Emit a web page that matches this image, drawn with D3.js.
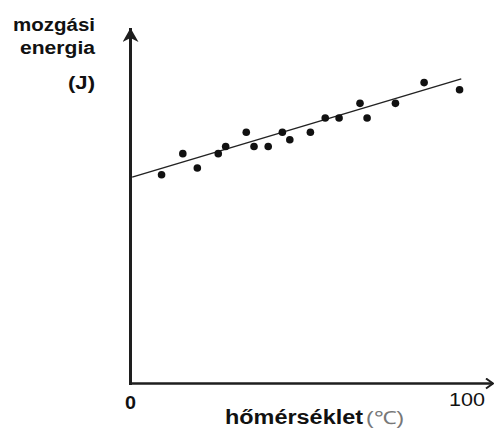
<!DOCTYPE html>
<html>
<head>
<meta charset="utf-8">
<script src="https://cdn.jsdelivr.net/npm/d3@7"></script>
<style>
  body { margin: 0; background: #fff; }
  svg { display: block; font-family: Arial, "Liberation Sans", sans-serif; }
</style>
</head>
<body>
<svg id="chart"></svg>
<script>
// temperature (°C) and kinetic energy (arbitrary units)
const temps = [9.2, 15.5, 19.8, 26.0, 28.2, 34.3, 36.6, 40.8, 45.0, 47.2, 53.3, 57.7, 61.8, 68.0, 70.1, 78.5, 87.0, 97.5];
const energies = [61.4, 67.6, 63.4, 67.6, 69.7, 73.9, 69.7, 69.7, 73.9, 71.7, 73.9, 78.1, 78.1, 82.4, 78.1, 82.4, 88.5, 86.4];
// fitted line end points
const trendX = [0.5, 98];
const trendY = [60.7, 89.6];
const xTicks = [0, 100];

const width = 494, height = 430;
const svg = d3.select('#chart')
    .attr('width', width)
    .attr('height', height);

const x = d3.scaleLinear().domain([0, 100]).range([130.5, 468]);
const y = d3.scaleLinear().domain([0, 100]).range([383.5, 43.5]);

const axisColor = '#1e1e1e';

// axes with arrows
const defs = svg.append('defs');
defs.append('marker')
    .attr('id', 'arrowY')
    .attr('viewBox', '0 0 16 14')
    .attr('refX', 8).attr('refY', 0)
    .attr('markerWidth', 16).attr('markerHeight', 14)
    .attr('markerUnits', 'userSpaceOnUse')
    .attr('orient', 0)
    .append('path')
    .attr('d', 'M8,0 L16,14 L8,10 L0,14 Z')
    .attr('fill', axisColor);

defs.append('marker')
    .attr('id', 'arrowX')
    .attr('viewBox', '0 0 10 12')
    .attr('refX', 9).attr('refY', 6)
    .attr('markerWidth', 10).attr('markerHeight', 12)
    .attr('markerUnits', 'userSpaceOnUse')
    .attr('orient', 0)
    .append('path')
    .attr('d', 'M2,1 L9,6 L2,11')
    .attr('fill', 'none')
    .attr('stroke', axisColor)
    .attr('stroke-width', 2);

svg.append('line')
    .attr('x1', x(0)).attr('y1', y(0) + 1.5)
    .attr('x2', x(0)).attr('y2', 28)
    .attr('stroke', axisColor)
    .attr('stroke-width', 3)
    .attr('marker-end', 'url(#arrowY)');

svg.append('line')
    .attr('x1', x(0) - 1.5).attr('y1', y(0))
    .attr('x2', 493).attr('y2', y(0))
    .attr('stroke', axisColor)
    .attr('stroke-width', 2.6)
    .attr('marker-end', 'url(#arrowX)');

// tick labels at the two ends of the temperature scale
svg.selectAll('.tick-label')
    .data(xTicks)
    .join('text')
    .attr('class', 'tick-label')
    .attr('x', d => x(d) - (d === 0 ? 0 : 1))
    .attr('y', d => d === 0 ? 409 : 406)
    .attr('text-anchor', 'middle')
    .attr('fill', '#111')
    .attr('font-size', d => d === 0 ? 19 : 18)
    .attr('font-weight', d => d === 0 ? 'bold' : 'normal')
    .attr('textLength', d => d === 0 ? 11 : 36)
    .attr('lengthAdjust', 'spacingAndGlyphs')
    .text(d => d);

// trend line
const line = d3.line()
    .x(d => x(d[0]))
    .y(d => y(d[1]));

svg.append('path')
    .datum(d3.zip(trendX, trendY))
    .attr('d', line)
    .attr('fill', 'none')
    .attr('stroke', '#222')
    .attr('stroke-width', 1.5);

// measured points
svg.selectAll('.dot')
    .data(d3.zip(temps, energies))
    .join('circle')
    .attr('class', 'dot')
    .attr('cx', d => x(d[0]))
    .attr('cy', d => y(d[1]))
    .attr('r', 3.8)
    .attr('fill', '#111');

// axis titles
const yTitle = [
    { t: 'mozgási', y: 31, len: 82 },
    { t: 'energia', y: 54, len: 75 },
    { t: '(J)', y: 89, len: 27 }
];
svg.selectAll('.y-title')
    .data(yTitle)
    .join('text')
    .attr('class', 'y-title')
    .attr('x', 95)
    .attr('y', d => d.y)
    .attr('text-anchor', 'end')
    .attr('font-size', 18)
    .attr('font-weight', 'bold')
    .attr('fill', '#111')
    .attr('textLength', d => d.len)
    .attr('lengthAdjust', 'spacingAndGlyphs')
    .text(d => d.t);

svg.append('text')
    .attr('x', 225)
    .attr('y', 424)
    .attr('font-size', 20)
    .attr('font-weight', 'bold')
    .attr('fill', '#111')
    .attr('textLength', 138)
    .attr('lengthAdjust', 'spacingAndGlyphs')
    .text('hőmérséklet');

svg.append('text')
    .attr('x', 366)
    .attr('y', 424)
    .attr('font-size', 18)
    .attr('fill', '#777')
    .attr('textLength', 38)
    .attr('lengthAdjust', 'spacingAndGlyphs')
    .text('(℃)');
</script>
</body>
</html>
